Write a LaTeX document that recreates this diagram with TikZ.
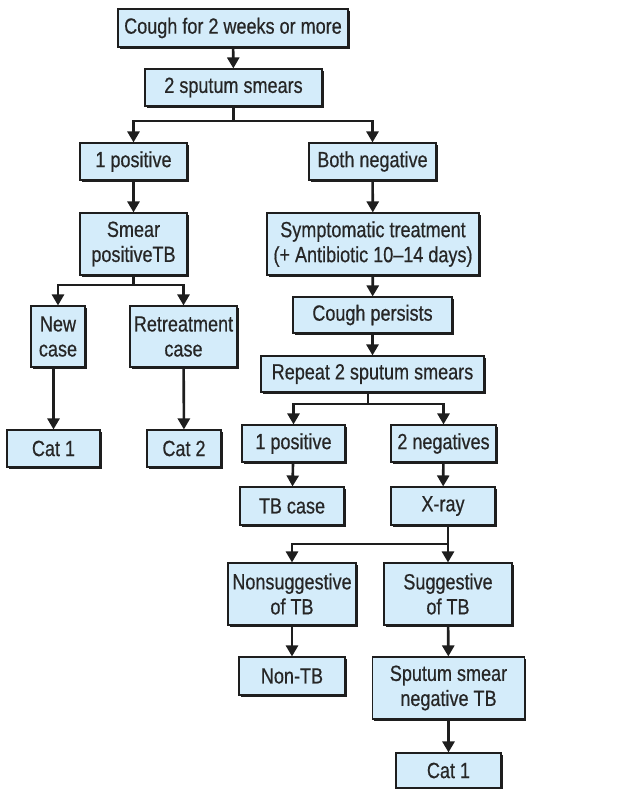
\documentclass[tikz,border=0pt]{standalone}
\usepackage{fontspec}
\setmainfont[FakeStretch=0.82,FakeBold=0.5]{Liberation Sans}
\usetikzlibrary{arrows.meta,shadows}
\definecolor{boxblue}{RGB}{212,236,250}
\definecolor{linegray}{RGB}{30,30,30}
\tikzset{
  box/.style   = {draw=linegray,line width=1.1pt,fill=boxblue,align=center,
                  text=black!85,font=\fontsize{22}{25}\selectfont,inner sep=0pt,
                  drop shadow={shadow xshift=1.8pt,shadow yshift=-1.8pt,
                               fill=linegray,opacity=1}},
  arrow/.style = {-{Triangle[length=11pt,width=12pt]},line width=2.6pt,color=linegray},
  link/.style  = {line width=2.6pt,color=linegray},
}
\begin{document}
\begin{tikzpicture}[x=1pt,y=-1pt]
  \useasboundingbox (0,0) rectangle (622,789);
  \node[box,minimum width=230pt,minimum height=38pt] (cough)    at (233,28)    {Cough for 2 weeks or more};
  \node[box,minimum width=177pt,minimum height=37pt] (smears)   at (233.5,87.5) {2 sputum smears};
  \node[box,minimum width=107pt,minimum height=37pt] (pos1)     at (133.5,161.5) {1 positive};
  \node[box,minimum width=127pt,minimum height=37pt] (bothneg)  at (372.5,161.5) {Both negative};
  \node[box,minimum width=107pt,minimum height=62pt] (smearpos) at (133.5,244) {Smear\\positiveTB};
  \node[box,minimum width=212pt,minimum height=62pt] (sympt)    at (373,244)   {Symptomatic treatment\\(+ Antibiotic 10--14 days)};
  \node[box,minimum width=54pt,minimum height=61pt]  (newcase)  at (58,336.5)  {New\\case};
  \node[box,minimum width=107pt,minimum height=61pt] (retreat)  at (183.5,336.5) {Retreatment\\case};
  \node[box,minimum width=93pt,minimum height=37pt]  (cata)     at (53.5,448.5) {Cat 1};
  \node[box,minimum width=74pt,minimum height=37pt]  (catb)     at (184,448.5) {Cat 2};
  \node[box,minimum width=159pt,minimum height=36pt] (persists) at (372.5,315) {Cough persists};
  \node[box,minimum width=223pt,minimum height=36pt] (repeat)   at (372.5,374) {Repeat 2 sputum smears};
  \node[box,minimum width=103pt,minimum height=37pt] (pos2)     at (293.5,443.5) {1 positive};
  \node[box,minimum width=105pt,minimum height=37pt] (neg2)     at (443.5,443.5) {2 negatives};
  \node[box,minimum width=104pt,minimum height=38pt] (tbcase)   at (292,506)   {TB case};
  \node[box,minimum width=104pt,minimum height=38pt] (xray)     at (443,506)   {X-ray};
  \node[box,minimum width=128pt,minimum height=62pt] (nonsugg)  at (292,594)   {Nonsuggestive\\of TB};
  \node[box,minimum width=128pt,minimum height=62pt] (sugg)     at (448,594)   {Suggestive\\of TB};
  \node[box,minimum width=106pt,minimum height=38pt] (nontb)    at (292,676)   {Non-TB};
  \node[box,minimum width=152pt,minimum height=62pt] (ssneg)    at (448.5,688) {Sputum smear\\negative TB};
  \node[box,minimum width=105pt,minimum height=35pt] (catc)     at (448.5,770.5) {Cat 1};

  \coordinate (j1) at (233.5,121);
  \coordinate (j2) at (133.5,285);
  \coordinate (j3) at (368,404);
  \coordinate (j4) at (448,544);

  \draw[arrow] (cough) -- (smears);
  \draw[link]  (smears) -- (j1);
  \draw[arrow] (j1) -| (pos1);
  \draw[arrow] (j1) -| (bothneg);
  \draw[arrow] (pos1) -- (smearpos);
  \draw[arrow] (bothneg) -- (sympt);
  \draw[link]  (smearpos) -- (j2);
  \draw[arrow] (j2) -| (newcase);
  \draw[arrow] (j2) -| (retreat);
  \draw[arrow] (newcase.south -| cata) -- (cata);
  \draw[arrow] (retreat) -- (catb);
  \draw[arrow] (sympt) -- (persists);
  \draw[arrow] (persists) -- (repeat);
  \draw[link]  (repeat.south -| j3) -- (j3);
  \draw[arrow] (j3) -| (pos2);
  \draw[arrow] (j3) -| (neg2);
  \draw[arrow] (pos2) -- (tbcase);
  \draw[arrow] (neg2) -- (xray);
  \draw[link]  (xray.south -| j4) -- (j4);
  \draw[arrow] (j4) -| (nonsugg);
  \draw[arrow] (j4) -- (sugg);
  \draw[arrow] (nonsugg) -- (nontb);
  \draw[arrow] (sugg) -- (ssneg);
  \draw[arrow] (ssneg) -- (catc);
\end{tikzpicture}
\end{document}
